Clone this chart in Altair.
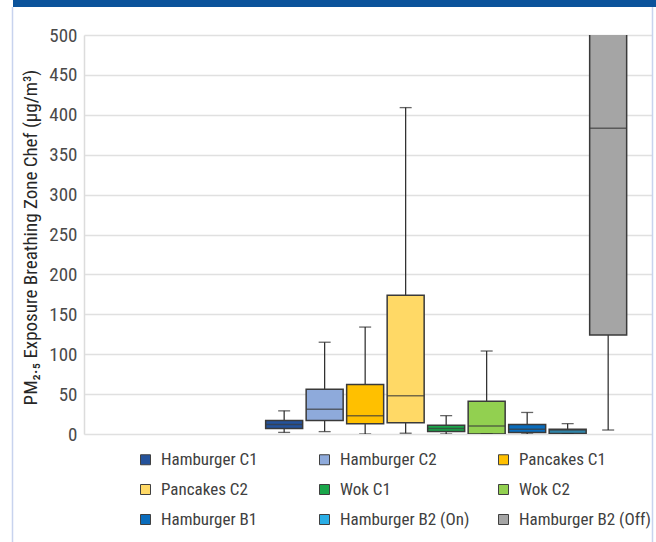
import altair as alt
import pandas as pd

# PM2.5 exposure in the chef's breathing zone, per cooking session
sessions = ["Hamburger C1", "Hamburger C2", "Pancakes C1", "Pancakes C2", "Wok C1",
            "Wok C2", "Hamburger B1", "Hamburger B2 (On)", "Hamburger B2 (Off)"]
whisker_low = [2, 3, 0, 1, 0, 0, 0, 0, 5]
quart_1 = [7, 17, 13, 14, 3, 0, 2, 1, 124]
medians = [12, 31, 23, 48, 7, 10, 6, 4, 383]
quart_3 = [17, 56, 62, 174, 11, 41, 12, 6, 560]
whisker_high = [29, 115, 134, 409, 23, 104, 27, 13, 650]
fills = ["#24529b", "#8eaadb", "#ffc000", "#ffd966", "#1aa64a",
         "#92d050", "#0a6cbc", "#2aaee6", "#a5a5a5"]
y_ticks = list(range(0, 501, 50))

# empty category slots to the left of the boxes
empty_slots = [" ", "  ", "   ", "    "]

df = pd.DataFrame({
    "session": sessions,
    "low": whisker_low,
    "q1": quart_1,
    "median": medians,
    "q3": quart_3,
    "high": whisker_high,
})

FONT = ("Roboto Condensed, Noto Sans Condensed, Liberation Sans Narrow, "
        "DejaVu Sans Condensed, Roboto, sans-serif")
EDGE = "#3a3a3a"

x_scale = alt.Scale(domain=empty_slots + sessions, paddingInner=0.09,
                    paddingOuter=0.557, align=0.437)
y_scale = alt.Scale(domain=[0, 500], nice=False, zero=True)

x_enc = alt.X("session:N", scale=x_scale, axis=None)
y_axis = alt.Axis(values=y_ticks, tickCount=len(y_ticks) + 1,
                  title="PM₂.₅ Exposure Breathing Zone Chef (µg/m³)",
                  titleFontSize=19, titleFontWeight="normal", titleColor="#262626",
                  titleX=-54, titleY=202, titleAngle=-90, titleAlign="center",
                  titleBaseline="middle",
                  labelFontSize=19, labelColor="#4a4a4a", labelPadding=7,
                  labelOverlap=False,
                  ticks=False, domainColor="#dcdcdc", domainWidth=1.5,
                  gridColor="#e0e0e0", gridWidth=1.5)


def y_of(field):
    return alt.Y(field, scale=y_scale, axis=y_axis)


base = alt.Chart(df)

whisk_lo = base.mark_rule(color="#262626", strokeWidth=1.2, clip=True).encode(
    x=x_enc, y=y_of("low:Q"), y2="q1:Q")
whisk_hi = base.mark_rule(color="#262626", strokeWidth=1.2, clip=True).encode(
    x=x_enc, y=y_of("q3:Q"), y2="high:Q")

boxes = base.mark_bar(stroke=EDGE, strokeWidth=1.5, size=37, clip=True).encode(
    x=x_enc,
    y=y_of("q1:Q"),
    y2="q3:Q",
    color=alt.Color("session:N", sort=sessions,
                    scale=alt.Scale(domain=sessions, range=fills),
                    legend=alt.Legend(orient="none", legendX=53, legendY=416, columns=3,
                                      direction="horizontal", padding=0,
                                      title=None, symbolType="square", symbolSize=100,
                                      symbolStrokeColor="#404040", symbolStrokeWidth=1,
                                      labelFontSize=17, labelColor="#404040",
                                      labelOffset=7, columnPadding=22, rowPadding=12,
                                      gridAlign="all")),
)

median_ticks = base.mark_tick(color=EDGE, size=37, thickness=1.5, clip=True).encode(
    x=x_enc, y=y_of("median:Q"))
cap_lo = base.mark_tick(color="#262626", size=12, thickness=1.3, clip=True).encode(
    x=x_enc, y=y_of("low:Q"))
cap_hi = base.mark_tick(color="#262626", size=12, thickness=1.3, clip=True).encode(
    x=x_enc, y=y_of("high:Q"))

# panel frame: blue header band and thin side borders
one = alt.Data(values=[{"k": 0}])
band = alt.Chart(one).mark_rect(color="#0b539b").encode(
    x=alt.value(-71), x2=alt.value(572), y=alt.value(-35), y2=alt.value(-28))
left_border = alt.Chart(one).mark_rule(color="#c8d3ee", strokeWidth=1.5).encode(
    x=alt.value(-71.5), y=alt.value(-28), y2=alt.value(507))
right_border = alt.Chart(one).mark_rule(color="#c8d3ee", strokeWidth=1.5).encode(
    x=alt.value(568.5), y=alt.value(-28), y2=alt.value(507))

chart = alt.layer(
    band, left_border, right_border,
    whisk_lo, whisk_hi, boxes, median_ticks, cap_lo, cap_hi,
).properties(
    width=568, height=399,
    autosize=alt.AutoSizeParams(type="none"),
    padding={"left": 84, "top": 35, "right": 4, "bottom": 108},
).configure(font=FONT, background="white").configure_view(stroke=None)

chart.save("out.html", embed_options={"renderer": "svg", "actions": False})
